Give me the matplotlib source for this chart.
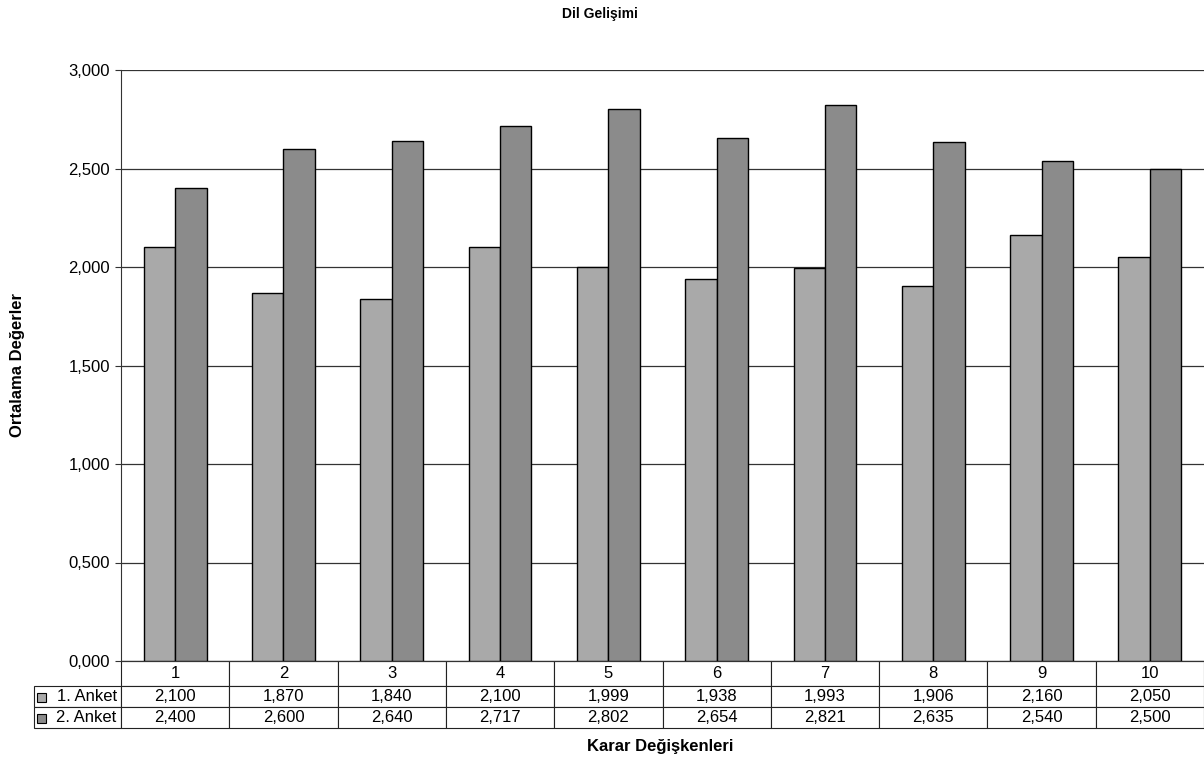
import matplotlib
matplotlib.use('Agg')
import matplotlib.pyplot as plt
from matplotlib.patches import Rectangle
import numpy as np

plt.rcParams['font.family'] = ['Liberation Sans', 'DejaVu Sans']

categories = ['1', '2', '3', '4', '5', '6', '7', '8', '9', '10']
anket1 = [2.100, 1.870, 1.840, 2.100, 1.999, 1.938, 1.993, 1.906, 2.160, 2.050]
anket2 = [2.400, 2.600, 2.640, 2.717, 2.802, 2.654, 2.821, 2.635, 2.540, 2.500]
series_names = ['1. Anket', '2. Anket']
colors = ['#a9a9a9', '#8b8b8b']


def fmt(v):
	return ('%.3f' % v).replace('.', ',')


fig = plt.figure(figsize=(12.04, 7.62), dpi=100)
ax = fig.add_axes([121/1204, 1 - 661/762, 1083/1204, 591/762])

x = np.arange(len(categories))
w = 0.29
ax.bar(x - w/2, anket1, width=w, color=colors[0], edgecolor='black', linewidth=1.0, zorder=3)
ax.bar(x + w/2, anket2, width=w, color=colors[1], edgecolor='black', linewidth=1.0, zorder=3)

ax.set_xlim(-0.5, len(categories) - 0.5)
ax.set_ylim(0, 3)
yt = np.arange(0, 3.01, 0.5)
ax.set_yticks(yt)
ax.set_yticklabels([fmt(t) for t in yt], fontsize=12)
ax.yaxis.grid(True, color='#333333', linewidth=0.9, zorder=0)
ax.set_xticks([])
ax.tick_params(axis='y', length=4, width=0.8, color='#333333', pad=4)
for s in ['top', 'right']:
	ax.spines[s].set_visible(False)
ax.spines['left'].set_color('#333333')
ax.spines['bottom'].set_color('#333333')

# data table below the plot (bbox only covers the data columns)
cell_text = [[fmt(v) for v in anket1], [fmt(v) for v in anket2]]
lab_w = 87 / 1083
tab_h = 67 / 591
tab = ax.table(cellText=cell_text, rowLabels=series_names,
			   colLabels=categories, cellLoc='center', rowLoc='right',
			   bbox=[0, -tab_h, 1, tab_h])
tab._autoColumns = []  # keep the row label column at a fixed width
tab.auto_set_font_size(False)
for (r, c), cell in tab.get_celld().items():
	cell.set_fontsize(12)
	cell.set_linewidth(0.8)
	cell.set_edgecolor('#222222')
	if c == -1:
		cell.set_width(lab_w)
		cell.PAD = 0.05
	else:
		cell.set_width(1 / len(categories))
	cell.set_height(25 if r == 0 else 21)

# legend swatches in the row label cells
for i, col in enumerate(colors):
	yc = 1 - (697 + i * 21) / 762
	fig.patches.append(Rectangle((37/1204, yc - 4.5/762), 9/1204, 9/762,
								 transform=fig.transFigure, facecolor=col,
								 edgecolor='black', linewidth=0.8))

fig.text(600/1204, 1 - 14/762, 'Dil Gelişimi', ha='center', va='center',
		 fontsize=10, fontweight='bold')
fig.text(18/1204, 1 - 365/762, 'Ortalama Değerler', ha='center', va='center',
		 rotation=90, fontsize=12, fontweight='bold')
fig.text(660/1204, 1 - 746/762, 'Karar Değişkenleri', ha='center', va='center',
		 fontsize=12, fontweight='bold')

plt.savefig('out.png', dpi=100)
